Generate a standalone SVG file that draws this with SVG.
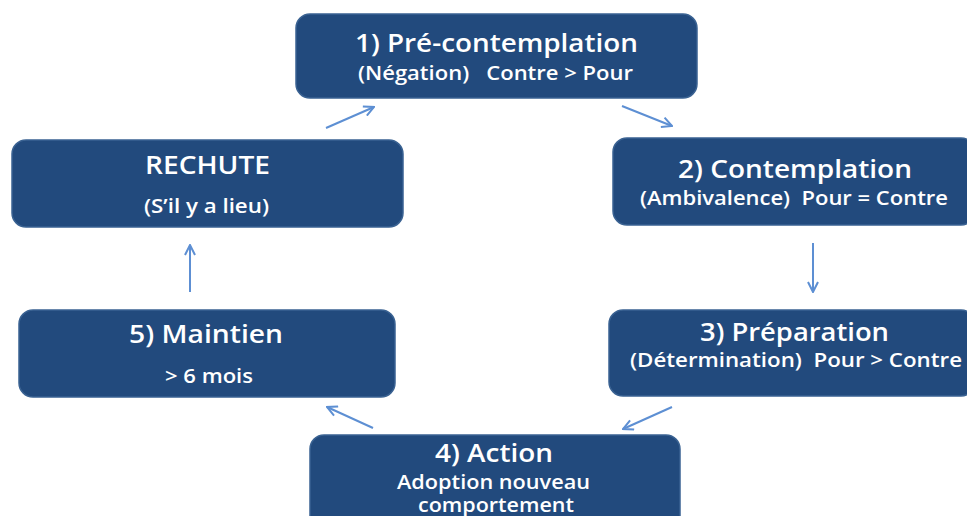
<svg xmlns="http://www.w3.org/2000/svg" width="967" height="516" viewBox="0 0 967 516">
<defs>
<style>
.box{fill:#224a7d;stroke:#3a6292;stroke-width:1.5}
.t{fill:#ffffff;font-family:"Open Sans","Liberation Sans",sans-serif;font-weight:600}
.h{font-size:25px}
.s{font-size:19px}
.c{fill:none;stroke:#5d8fd3;stroke-width:2}
</style>
<marker id="ah" viewBox="0 0 12 12" refX="11" refY="6" markerWidth="12" markerHeight="12" markerUnits="userSpaceOnUse" orient="auto">
<path d="M1,1 L11,6 L1,11" fill="none" stroke="#5d8fd3" stroke-width="2"/>
</marker>
</defs>
<rect width="967" height="516" fill="#ffffff"/>
<g id="connectors">
<line class="c" x1="326" y1="128" x2="374" y2="107" marker-end="url(#ah)"/>
<line class="c" x1="622" y1="106" x2="672" y2="126" marker-end="url(#ah)"/>
<line class="c" x1="813" y1="243" x2="813" y2="292" marker-end="url(#ah)"/>
<line class="c" x1="672" y1="407" x2="623" y2="429" marker-end="url(#ah)"/>
<line class="c" x1="373" y1="428" x2="327" y2="407" marker-end="url(#ah)"/>
<line class="c" x1="190" y1="292" x2="190" y2="245" marker-end="url(#ah)"/>
</g>
<g id="precontemplation">
<rect class="box" x="296" y="14" width="401" height="84" rx="14"/>
<text class="t h" x="355" y="52" textLength="283" lengthAdjust="spacingAndGlyphs">1) Pré-contemplation</text>
<text class="t s" x="358" y="80" textLength="275" lengthAdjust="spacingAndGlyphs" xml:space="preserve">(Négation)   Contre &gt; Pour</text>
</g>
<g id="contemplation">
<rect class="box" x="613" y="138" width="362" height="87" rx="14"/>
<text class="t h" x="678" y="178" textLength="234" lengthAdjust="spacingAndGlyphs">2) Contemplation</text>
<text class="t s" x="640" y="205" textLength="308" lengthAdjust="spacingAndGlyphs" xml:space="preserve">(Ambivalence)  Pour = Contre</text>
</g>
<g id="preparation">
<rect class="box" x="609" y="310" width="366" height="86" rx="14"/>
<text class="t h" x="700" y="341" textLength="189" lengthAdjust="spacingAndGlyphs">3) Préparation</text>
<text class="t s" x="630" y="367" textLength="332" lengthAdjust="spacingAndGlyphs" xml:space="preserve">(Détermination)  Pour &gt; Contre</text>
</g>
<g id="action">
<rect class="box" x="310" y="435" width="370" height="100" rx="14"/>
<text class="t h" x="435" y="462" textLength="118" lengthAdjust="spacingAndGlyphs">4) Action</text>
<text class="t s" x="397" y="489" textLength="193" lengthAdjust="spacingAndGlyphs">Adoption nouveau</text>
<text class="t s" x="418" y="512" textLength="156" lengthAdjust="spacingAndGlyphs">comportement</text>
</g>
<g id="maintien">
<rect class="box" x="19" y="310" width="376" height="87" rx="14"/>
<text class="t h" x="129" y="343" textLength="154" lengthAdjust="spacingAndGlyphs">5) Maintien</text>
<text class="t s" x="165" y="383" textLength="88" lengthAdjust="spacingAndGlyphs">&gt; 6 mois</text>
</g>
<g id="rechute">
<rect class="box" x="12" y="140" width="391" height="87" rx="14"/>
<text class="t h" x="145" y="174" textLength="125" lengthAdjust="spacingAndGlyphs">RECHUTE</text>
<text class="t s" x="144" y="213" textLength="125" lengthAdjust="spacingAndGlyphs">(S’il y a lieu)</text>
</g>
</svg>
